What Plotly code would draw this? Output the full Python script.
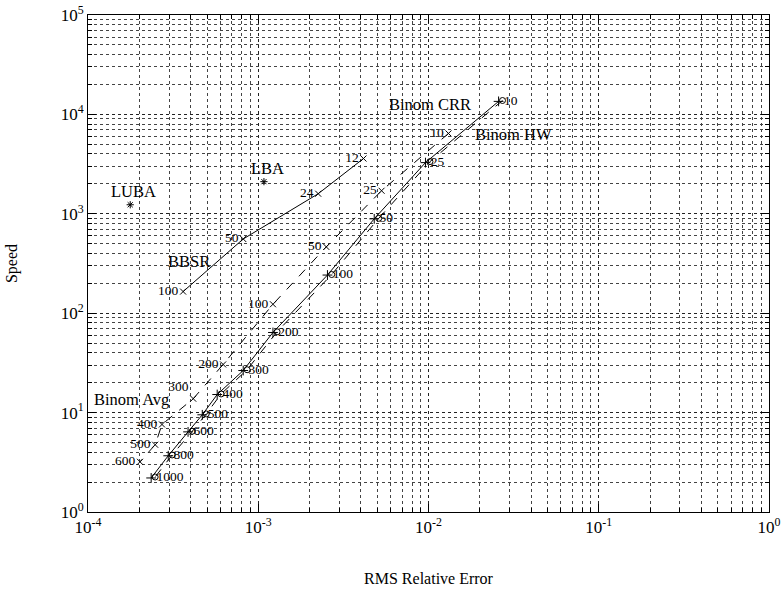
import numpy as np
import plotly.graph_objects as go

# ---- data ----
bbsr_x = [3.62e-4, 8.16e-4, 2.25e-3, 4.15e-3]
bbsr_y = [165, 558, 1592, 3597]
bbsr_lab = ["100", "50", "24", "12"]

lba_x = [1.08e-3]
lba_y = [2105]
luba_x = [1.77e-4]
luba_y = [1233]

crr_lab = ["10", "25", "50", "100", "200", "300", "400", "500", "600", "800", "1000"]
crr_x = [0.0258, 9.6e-3, 4.8e-3, 2.55e-3, 1.22e-3, 8.16e-4, 5.74e-4, 4.69e-4, 3.87e-4, 2.96e-4, 2.35e-4]
crr_y = [13520, 3273, 890, 242, 64, 26.5, 15.2, 9.5, 6.4, 3.68, 2.2]

hw_x = [0.0272, 0.0102, 5.1e-3, 2.7e-3, 1.29e-3, 8.6e-4, 6.05e-4, 4.95e-4, 4.1e-4, 3.12e-4, 2.48e-4]
hw_y = [13800, 3350, 900, 245, 65, 27, 15.4, 9.7, 6.5, 3.75, 2.25]

avg_lab = ["10", "25", "50", "100", "200", "300", "400", "500", "600"]
avg_x = [0.0131, 5.3e-3, 2.51e-3, 1.22e-3, 6.22e-4, 4.15e-4, 2.72e-4, 2.48e-4, 2.02e-4]
avg_y = [6430, 1706, 465, 123, 30.5, 13.8, 7.6, 4.75, 3.2]

x_ticks = [1e-4, 1e-3, 1e-2, 1e-1, 1e0]
x_tick_text = ["10<sup>-4</sup>", "10<sup>-3</sup>", "10<sup>-2</sup>", "10<sup>-1</sup>", "10<sup>0</sup>"]
y_ticks = [1e0, 1e1, 1e2, 1e3, 1e4, 1e5]
y_tick_text = ["10<sup>0</sup>", "10<sup>1</sup>", "10<sup>2</sup>", "10<sup>3</sup>", "10<sup>4</sup>", "10<sup>5</sup>"]
minor_steps = [2, 3, 4, 5, 6, 7, 8, 9]

x_minor = [d * m for d in x_ticks[:-1] for m in minor_steps]
y_minor = [d * m for d in y_ticks[:-1] for m in minor_steps]

FONT = "Liberation Serif"
lab_font = dict(family=FONT, size=13.5, color="#000000")

fig = go.Figure()

fig.add_trace(go.Scatter(
    x=bbsr_x, y=bbsr_y, mode="lines+markers+text", text=bbsr_lab,
    textposition="middle left", textfont=lab_font,
    line=dict(color="black", width=1),
    marker=dict(symbol="x-thin-open", size=6, color="black", line=dict(width=1, color="black")),
))
fig.add_trace(go.Scatter(
    x=lba_x, y=lba_y, mode="markers",
    marker=dict(symbol="asterisk-open", size=6, color="black", line=dict(width=1, color="black")),
))
fig.add_trace(go.Scatter(
    x=luba_x, y=luba_y, mode="markers",
    marker=dict(symbol="asterisk-open", size=6, color="black", line=dict(width=1, color="black")),
))
fig.add_trace(go.Scatter(
    x=hw_x, y=hw_y, mode="lines+markers",
    line=dict(color="black", width=1, dash="dash"),
    marker=dict(symbol="circle-open", size=6, color="black", line=dict(width=1, color="black")),
))
fig.add_trace(go.Scatter(
    x=crr_x, y=crr_y, mode="lines+markers+text", text=crr_lab,
    textposition="middle right", textfont=lab_font,
    line=dict(color="black", width=1),
    marker=dict(symbol="cross-thin-open", size=7, color="black", line=dict(width=1, color="black")),
))
avg_pos = ["middle left"] * len(avg_lab)
avg_pos[5] = "top left"
fig.add_trace(go.Scatter(
    x=avg_x, y=avg_y, mode="lines+markers+text", text=avg_lab,
    textposition=avg_pos, textfont=lab_font,
    line=dict(color="black", width=1, dash="dash"),
    marker=dict(symbol="x-thin-open", size=6, color="black", line=dict(width=1, color="black")),
))

name_font = dict(family=FONT, size=16.5, color="black")
def name_ann(text, x, y, xanchor, yanchor, xshift, yshift):
    fig.add_annotation(x=np.log10(x), y=np.log10(y), text=text, showarrow=False,
                       xanchor=xanchor, yanchor=yanchor, xshift=xshift, yshift=yshift,
                       font=name_font)

name_ann("BBSR", bbsr_x[0], bbsr_y[0], "center", "middle", 6, 30)
name_ann("LBA", lba_x[0], lba_y[0], "center", "bottom", 4, 2)
name_ann("LUBA", luba_x[0], luba_y[0], "center", "bottom", 3, 2)
name_ann("Binom CRR", crr_x[0], crr_y[0], "right", "middle", -26, -3)
name_ann("Binom HW", hw_x[0], hw_y[0], "left", "middle", -29, -34)
name_ann("Binom Avg", avg_x[5], avg_y[5], "right", "middle", -22, -1)

def axis_common(minor_vals):
    return dict(
        type="log", showline=True, linecolor="black", linewidth=1, mirror="ticks",
        ticks="inside", ticklen=8, tickcolor="black", tickwidth=1,
        showgrid=True, gridcolor="#222", griddash="dot", gridwidth=1,
        zeroline=False, automargin=False, ticklabeloverflow="allow",
        tickfont=dict(family=FONT, size=17, color="black"),
        minor=dict(tickmode="array", tickvals=minor_vals, ticks="inside", ticklen=4,
                   tickcolor="black", showgrid=True,
                   gridcolor="#444", griddash="dot", gridwidth=1),
    )

fig.update_xaxes(**axis_common(x_minor), range=[-4, 0], tickvals=x_ticks, ticktext=x_tick_text,
                 title=dict(text="RMS Relative Error", font=dict(family=FONT, size=16, color="black"), standoff=36))
fig.update_yaxes(**axis_common(y_minor), range=[0, 5], tickvals=y_ticks, ticktext=y_tick_text,
                 title=dict(text="Speed", font=dict(family=FONT, size=16, color="black"), standoff=39))

fig.update_layout(
    width=782, height=589,
    margin=dict(l=88, r=13, t=15, b=77),
    paper_bgcolor="white", plot_bgcolor="white",
    showlegend=False,
    font=dict(family=FONT, color="black"),
)

fig.write_html("out.html", config={"displayModeBar": False},
               post_script="document.body.style.margin='0';")
